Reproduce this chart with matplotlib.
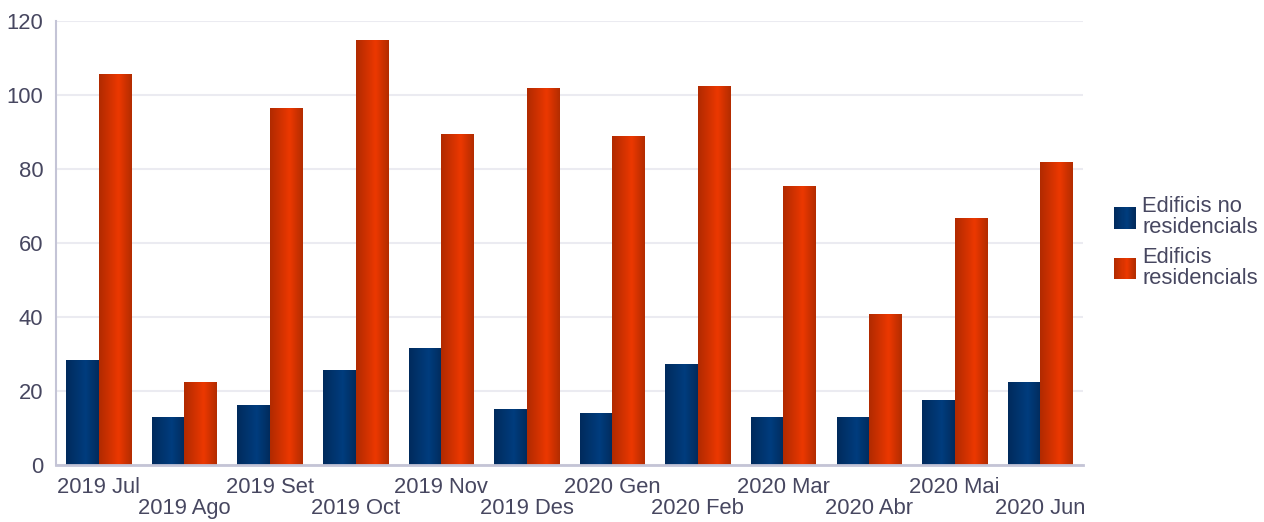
import numpy as np
import matplotlib
matplotlib.use("Agg")
import matplotlib.pyplot as plt
from matplotlib.colors import LinearSegmentedColormap
from matplotlib.legend_handler import HandlerBase
from matplotlib.patches import Rectangle

plt.rcParams['font.family'] = ['Liberation Sans', 'DejaVu Sans']

months = ["2019 Jul", "2019 Ago", "2019 Set", "2019 Oct", "2019 Nov", "2019 Des",
          "2020 Gen", "2020 Feb", "2020 Mar", "2020 Abr", "2020 Mai", "2020 Jun"]
non_residential = [28.4, 13.0, 16.2, 25.7, 31.6, 15.1, 14.1, 27.3, 13.0, 13.0, 17.6, 22.4]
residential = [105.7, 22.4, 96.5, 114.9, 89.5, 101.9, 88.9, 102.4, 75.4, 40.8, 66.8, 81.9]
series_names = ["Edificis no\nresidencials", "Edificis\nresidencials"]

text_color = "#474760"
axis_color = "#c4c4d6"
grid_color = "#ebebf1"

# horizontal shading of each bar: dark edges, bright stripe slightly right of centre
blue_cmap = LinearSegmentedColormap.from_list(
    "blue_shade", [(0.0, "#012a5c"), (0.6, "#003d7e"), (1.0, "#022b5c")])
red_cmap = LinearSegmentedColormap.from_list(
    "red_shade", [(0.0, "#b02a00"), (0.6, "#ec3800"), (1.0, "#b22c00")])
cmaps = [blue_cmap, red_cmap]

fig = plt.figure(figsize=(12.64, 5.22), dpi=100)
ax = fig.add_axes([0.0443, 0.1092, 0.8125, 0.8506])

x = np.arange(len(months))
width = 0.38
gradient = np.linspace(0, 1, 256).reshape(1, -1)

for i, (vals, cmap) in enumerate(zip([non_residential, residential], cmaps)):
    offs = (i - 0.5) * width
    bars = ax.bar(x + offs, vals, width, color=cmap(0.6), linewidth=0, zorder=2)
    for b in bars:
        x0, y0 = b.get_x(), b.get_y()
        w, h = b.get_width(), b.get_height()
        im = ax.imshow(gradient, cmap=cmap, aspect="auto",
                       extent=(x0, x0 + w, y0, y0 + h), zorder=3,
                       interpolation="bicubic")
        im.set_clip_path(b)

ax.set_xlim(-0.5, len(months) - 0.5)
ax.set_ylim(0, 120)
ax.set_yticks(np.arange(0, 121, 20))
ax.grid(axis="y", color=grid_color, linewidth=1.5, zorder=0)
ax.set_axisbelow(True)

ax.set_xticks(x)
ax.set_xticklabels([m if k % 2 == 0 else "\n" + m for k, m in enumerate(months)])
for t in ax.get_xticklabels():
    t.set_linespacing(0.95)

ax.tick_params(axis="both", length=0, labelsize=15.8, colors=text_color)
ax.tick_params(axis="x", pad=9)
ax.tick_params(axis="y", pad=9)

for side in ["top", "right"]:
    ax.spines[side].set_visible(False)
ax.spines["left"].set_color(axis_color)
ax.spines["left"].set_linewidth(1.5)
ax.spines["bottom"].set_color(axis_color)
ax.spines["bottom"].set_linewidth(2)
ax.spines["bottom"].set_zorder(4)


class GradientHandler(HandlerBase):
    def __init__(self, cmap):
        super().__init__()
        self.cmap = cmap

    def create_artists(self, legend, orig_handle, xdescent, ydescent,
                       width, height, fontsize, trans):
        n = 20
        size = min(width, height * 1.1)
        x0 = -xdescent
        y0 = -ydescent + (height - size) / 2
        artists = []
        for k in range(n):
            r = Rectangle((x0 + size * k / n, y0), size / n + 0.3, size,
                          facecolor=self.cmap((k + 0.5) / n), edgecolor="none",
                          transform=trans)
            artists.append(r)
        return artists


handles = [Rectangle((0, 0), 1, 1), Rectangle((0, 0), 1, 1)]
leg = fig.legend(handles, series_names,
                 handler_map={handles[0]: GradientHandler(blue_cmap),
                              handles[1]: GradientHandler(red_cmap)},
                 loc="center left", bbox_to_anchor=(0.8725, 0.535),
                 frameon=False, fontsize=15.8, labelcolor=text_color,
                 handlelength=1.0, handleheight=1.0, handletextpad=0.3,
                 labelspacing=0.4, borderpad=0)
for t in leg.get_texts():
    t.set_linespacing(1.0)

fig.savefig("out.png", dpi=100)
